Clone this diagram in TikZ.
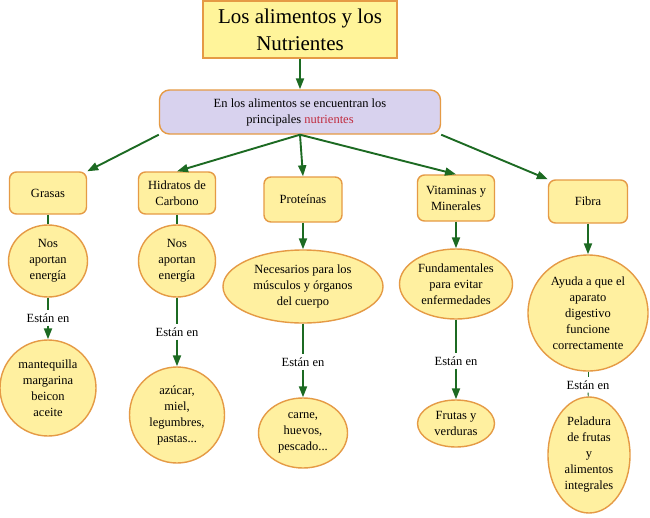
\documentclass[tikz,border=0pt]{standalone}
\usepackage{fontspec}
\setmainfont{Liberation Serif}
\usetikzlibrary{arrows.meta,shapes.geometric}
\definecolor{boxfill}{HTML}{FFF0A0}
\definecolor{titlefill}{HTML}{FFF49A}
\definecolor{edgeor}{HTML}{E59A45}
\definecolor{lav}{HTML}{D8D2EE}
\definecolor{arrgreen}{HTML}{1C6A22}
\definecolor{nutred}{HTML}{C02A3E}
\begin{document}
\begin{tikzpicture}[x=1pt,y=-1pt,
  txt/.style={font=\fontsize{12.5}{16}\selectfont, align=center, inner sep=0pt},
  catbox/.style={txt, draw=edgeor, line width=1.4pt, fill=boxfill, rounded corners=7pt, rectangle},
  bubble/.style={draw=edgeor, line width=1.4pt, fill=boxfill, ellipse, inner sep=0pt},
  estan/.style={txt, inner sep=3pt},
  link/.style={draw=arrgreen, line width=1.9pt},
  arrowlink/.style={link, -{Triangle[length=11pt,width=8pt]}}
]
\useasboundingbox (0,0) rectangle (650,517);
\fill[white] (0,0) rectangle (650,517);

% title and main box
\node[draw=edgeor, line width=1.4pt, fill=titlefill, minimum width=194, minimum height=57,
      font=\fontsize{21}{27}\selectfont, align=center, inner sep=0pt] (title) at (300,29.5)
      {Los alimentos y los\\Nutrientes};
\node[txt, draw=edgeor, line width=1.4pt, fill=lav, rounded corners=10pt,
      minimum width=281, minimum height=44] (main) at (300,112)
      {En los alimentos se encuentran los\\principales \textcolor{nutred}{nutrientes}};

% categories
\node[catbox, minimum width=77, minimum height=42] (gras) at (48,193) {Grasas};
\node[catbox, minimum width=77, minimum height=42] (hidr) at (177,193) {Hidratos de\\Carbono};
\node[catbox, minimum width=78, minimum height=45] (prot) at (303,199.5) {Proteínas};
\node[catbox, minimum width=77, minimum height=46] (vita) at (456,198) {Vitaminas y\\Minerales};
\node[catbox, minimum width=79, minimum height=43] (fibr) at (588,201.5) {Fibra};

% level 3
\node[bubble, minimum width=79, minimum height=72,
      label={[txt]center:{Nos\\aportan\\energía}}] (gras3) at (48,261) {};
\node[bubble, minimum width=77, minimum height=72,
      label={[txt]center:{Nos\\aportan\\energía}}] (hidr3) at (177,261) {};
\node[bubble, minimum width=160, minimum height=73,
      label={[txt]center:{Necesarios para los\\músculos y órganos\\del cuerpo}}] (prot3) at (303,286.5) {};
\node[bubble, minimum width=113, minimum height=70,
      label={[txt]center:{Fundamentales\\para evitar\\enfermedades}}] (vita3) at (456,284) {};
\node[bubble, minimum width=120, minimum height=116,
      label={[txt]center:{Ayuda a que el\\aparato\\digestivo\\funcione\\correctamente}}] (fibr3) at (588,313) {};

% labels
\node[estan] (gl) at (48,318) {Están en};
\node[estan] (hl) at (177,332) {Están en};
\node[estan] (pl) at (303,362) {Están en};
\node[estan] (vl) at (456,361) {Están en};
\node[estan] (fl) at (588,385) {Están en};

% level 4
\node[bubble, minimum width=96, minimum height=96,
      label={[txt]center:{mantequilla\\margarina\\beicon\\aceite}}] (gras4) at (48,388) {};
\node[bubble, minimum width=95, minimum height=96,
      label={[txt]center:{azúcar,\\miel,\\legumbres,\\pastas...}}] (hidr4) at (177,415) {};
\node[bubble, minimum width=89, minimum height=70,
      label={[txt]center:{carne,\\huevos,\\pescado...}}] (prot4) at (303,433) {};
\node[bubble, minimum width=77, minimum height=47,
      label={[txt]center:{Frutas y\\verduras}}] (vita4) at (456,423.5) {};
\node[bubble, minimum width=82, minimum height=116,
      label={[txt]center:{Peladura\\de frutas\\y\\alimentos\\integrales}}] (fibr4) at (589,455) {};

% connectors
\draw[arrowlink] (title) -- (main);
\draw[arrowlink] (main.south west) -- (gras.north east);
\draw[arrowlink] (main.south) -- (hidr.north);
\draw[arrowlink] (main.south) -- (prot.north);
\draw[arrowlink] (main.south) -- (vita.north);
\draw[arrowlink] (main.south east) -- (fibr.north west);

\draw[link] (gras) -- (gras3);
\draw[link] (hidr) -- (hidr3);
\draw[arrowlink] (prot) -- (prot3);
\draw[arrowlink] (vita) -- (vita3);
\draw[arrowlink] (fibr) -- (fibr3);

\draw[link] (gras3) -- (gl);
\draw[arrowlink] (gl) -- (gras4);
\draw[link] (hidr3) -- (hl);
\draw[arrowlink] (hl) -- (hidr4);
\draw[link] (prot3) -- (pl);
\draw[arrowlink] (pl) -- (prot4);
\draw[link] (vita3) -- (vl);
\draw[arrowlink] (vl) -- (vita4);
\draw[link, line width=0.8pt] (fibr3) -- (fl);
\draw[link, line width=0.8pt] (fl) -- (fibr4);
\end{tikzpicture}
\end{document}
